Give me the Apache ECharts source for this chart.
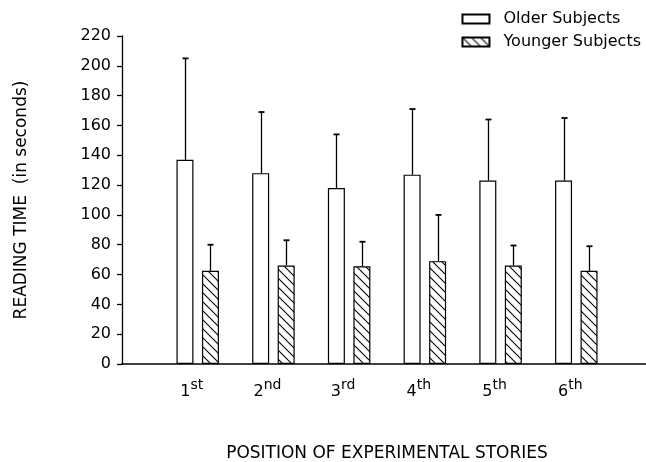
<!DOCTYPE html>
<html>
<head>
<meta charset="utf-8">
<script src="https://cdn.jsdelivr.net/npm/echarts@6/dist/echarts.min.js"></script>
<style>
html,body{margin:0;padding:0;background:#fff;}
#chart{width:646px;height:462px;}
</style>
</head>
<body>
<div id="chart"></div>
<script>
const positions = [1, 2, 3, 4, 5, 6];
const labelNumbers = ['1', '2', '3', '4', '5', '6'];
const labelSuffixes = ['st', 'nd', 'rd', 'th', 'th', 'th'];
const olderMeans = [137, 128, 118, 127, 123, 123];
const olderErrTop = [205, 169, 154, 171, 164, 165];
const youngerMeans = [62.5, 66, 65.5, 69, 66, 62.5];
const youngerErrTop = [80, 83, 82, 100, 79.5, 79];
const yTicks = [0, 20, 40, 60, 80, 100, 120, 140, 160, 180, 200, 220];

const FONT = 'DejaVu Sans';

// hatch pattern
const hatch = document.createElement('canvas');
hatch.width = 9; hatch.height = 9;
(function(){
  const c = hatch.getContext('2d');
  c.fillStyle = '#fff'; c.fillRect(0,0,9,9);
  c.strokeStyle = '#000'; c.lineWidth = 1.1;
  c.beginPath();
  c.moveTo(-1,-1); c.lineTo(10,10);
  c.moveTo(-1,8); c.lineTo(1,10);
  c.moveTo(8,-1); c.lineTo(10,1);
  c.stroke();
})();

const BAR_W = 17;
const OFFSET = 12.75;

function pairs(means, errs){ return positions.map((p,i)=>[p, means[i], errs[i]]); }

function errRender(offset){
  return function(params, api){
    const x = api.value(0), v = api.value(1), e = api.value(2);
    const p0 = api.coord([x, v]);
    const p1 = api.coord([x, e]);
    const cx = Math.round(p0[0] + offset) + 0.5;
    return {
      type: 'group',
      children: [
        {type:'line', shape:{x1:cx, y1:p0[1], x2:cx, y2:p1[1]}, style:{stroke:'#000', lineWidth:1.3}},
        {type:'line', shape:{x1:cx-3, y1:p1[1], x2:cx+3, y2:p1[1]}, style:{stroke:'#000', lineWidth:1.8}}
      ]
    };
  };
}

const chart = echarts.init(document.getElementById('chart'), null, {renderer:'canvas'});
chart.setOption({
  animation: false,
  backgroundColor: '#fff',
  grid: {left: 122, right: -6, top: 36, bottom: 98, containLabel: false, outerBoundsMode: 'none'},
  legend: {
    data: ['Older Subjects', 'Younger Subjects'],
    orient: 'vertical',
    right: 0, top: 5,
    itemWidth: 27, itemHeight: 9,
    itemGap: 5,
    icon: 'rect',
    textStyle: {fontFamily: FONT, fontSize: 16, color: '#000', lineHeight: 18, padding: [0,0,0,9]}
  },
  xAxis: {
    type: 'value',
    min: 0, max: 7, interval: 1,
    name: 'POSITION OF EXPERIMENTAL STORIES',
    nameLocation: 'middle',
    nameGap: 81,
    nameTextStyle: {fontFamily: FONT, fontSize: 17, color: '#000'},
    axisLine: {show: true, lineStyle: {color: '#000', width: 1.5}},
    axisTick: {show: false},
    splitLine: {show: false},
    axisLabel: {
      margin: 14,
      padding: [0, 12, 0, 0],
      formatter: function(v){
        const i = positions.indexOf(v);
        if (i < 0) return '';
        return '{n|' + labelNumbers[i] + '}{s|' + labelSuffixes[i] + '}';
      },
      rich: {
        n: {fontFamily: FONT, fontSize: 16, color: '#000', verticalAlign: 'bottom', lineHeight: 22},
        s: {fontFamily: FONT, fontSize: 14, color: '#000', verticalAlign: 'bottom', padding: [0,0,8,0], lineHeight: 22}
      }
    }
  },
  yAxis: {
    type: 'value',
    min: yTicks[0], max: yTicks[yTicks.length-1], interval: 20,
    name: 'READING TIME  (in seconds)',
    nameLocation: 'middle',
    nameGap: 92,
    nameTextStyle: {fontFamily: FONT, fontSize: 17, color: '#000'},
    axisLine: {show: true, lineStyle: {color: '#000', width: 1.3}},
    axisTick: {show: true, inside: false, length: 5, lineStyle: {color: '#000', width: 1.3}},
    splitLine: {show: false},
    axisLabel: {margin: 11, fontFamily: FONT, fontSize: 16, color: '#000'}
  },
  series: [
    {
      name: 'Older Subjects', type: 'bar',
      data: pairs(olderMeans, olderErrTop).map(d=>[d[0], d[1]]),
      barWidth: BAR_W, barGap: '50%',
      itemStyle: {color: '#fff', borderColor: '#000', borderWidth: 1.2}
    },
    {
      name: 'Younger Subjects', type: 'bar',
      data: pairs(youngerMeans, youngerErrTop).map(d=>[d[0], d[1]]),
      barWidth: BAR_W, barGap: '50%',
      itemStyle: {color: {image: hatch, repeat: 'repeat'}, borderColor: '#000', borderWidth: 1.2}
    },
    {
      name: 'olderErr', type: 'custom',
      data: pairs(olderMeans, olderErrTop),
      renderItem: errRender(-OFFSET), z: 5
    },
    {
      name: 'youngerErr', type: 'custom',
      data: pairs(youngerMeans, youngerErrTop),
      renderItem: errRender(OFFSET), z: 5
    }
  ]
});
</script>
</body>
</html>
